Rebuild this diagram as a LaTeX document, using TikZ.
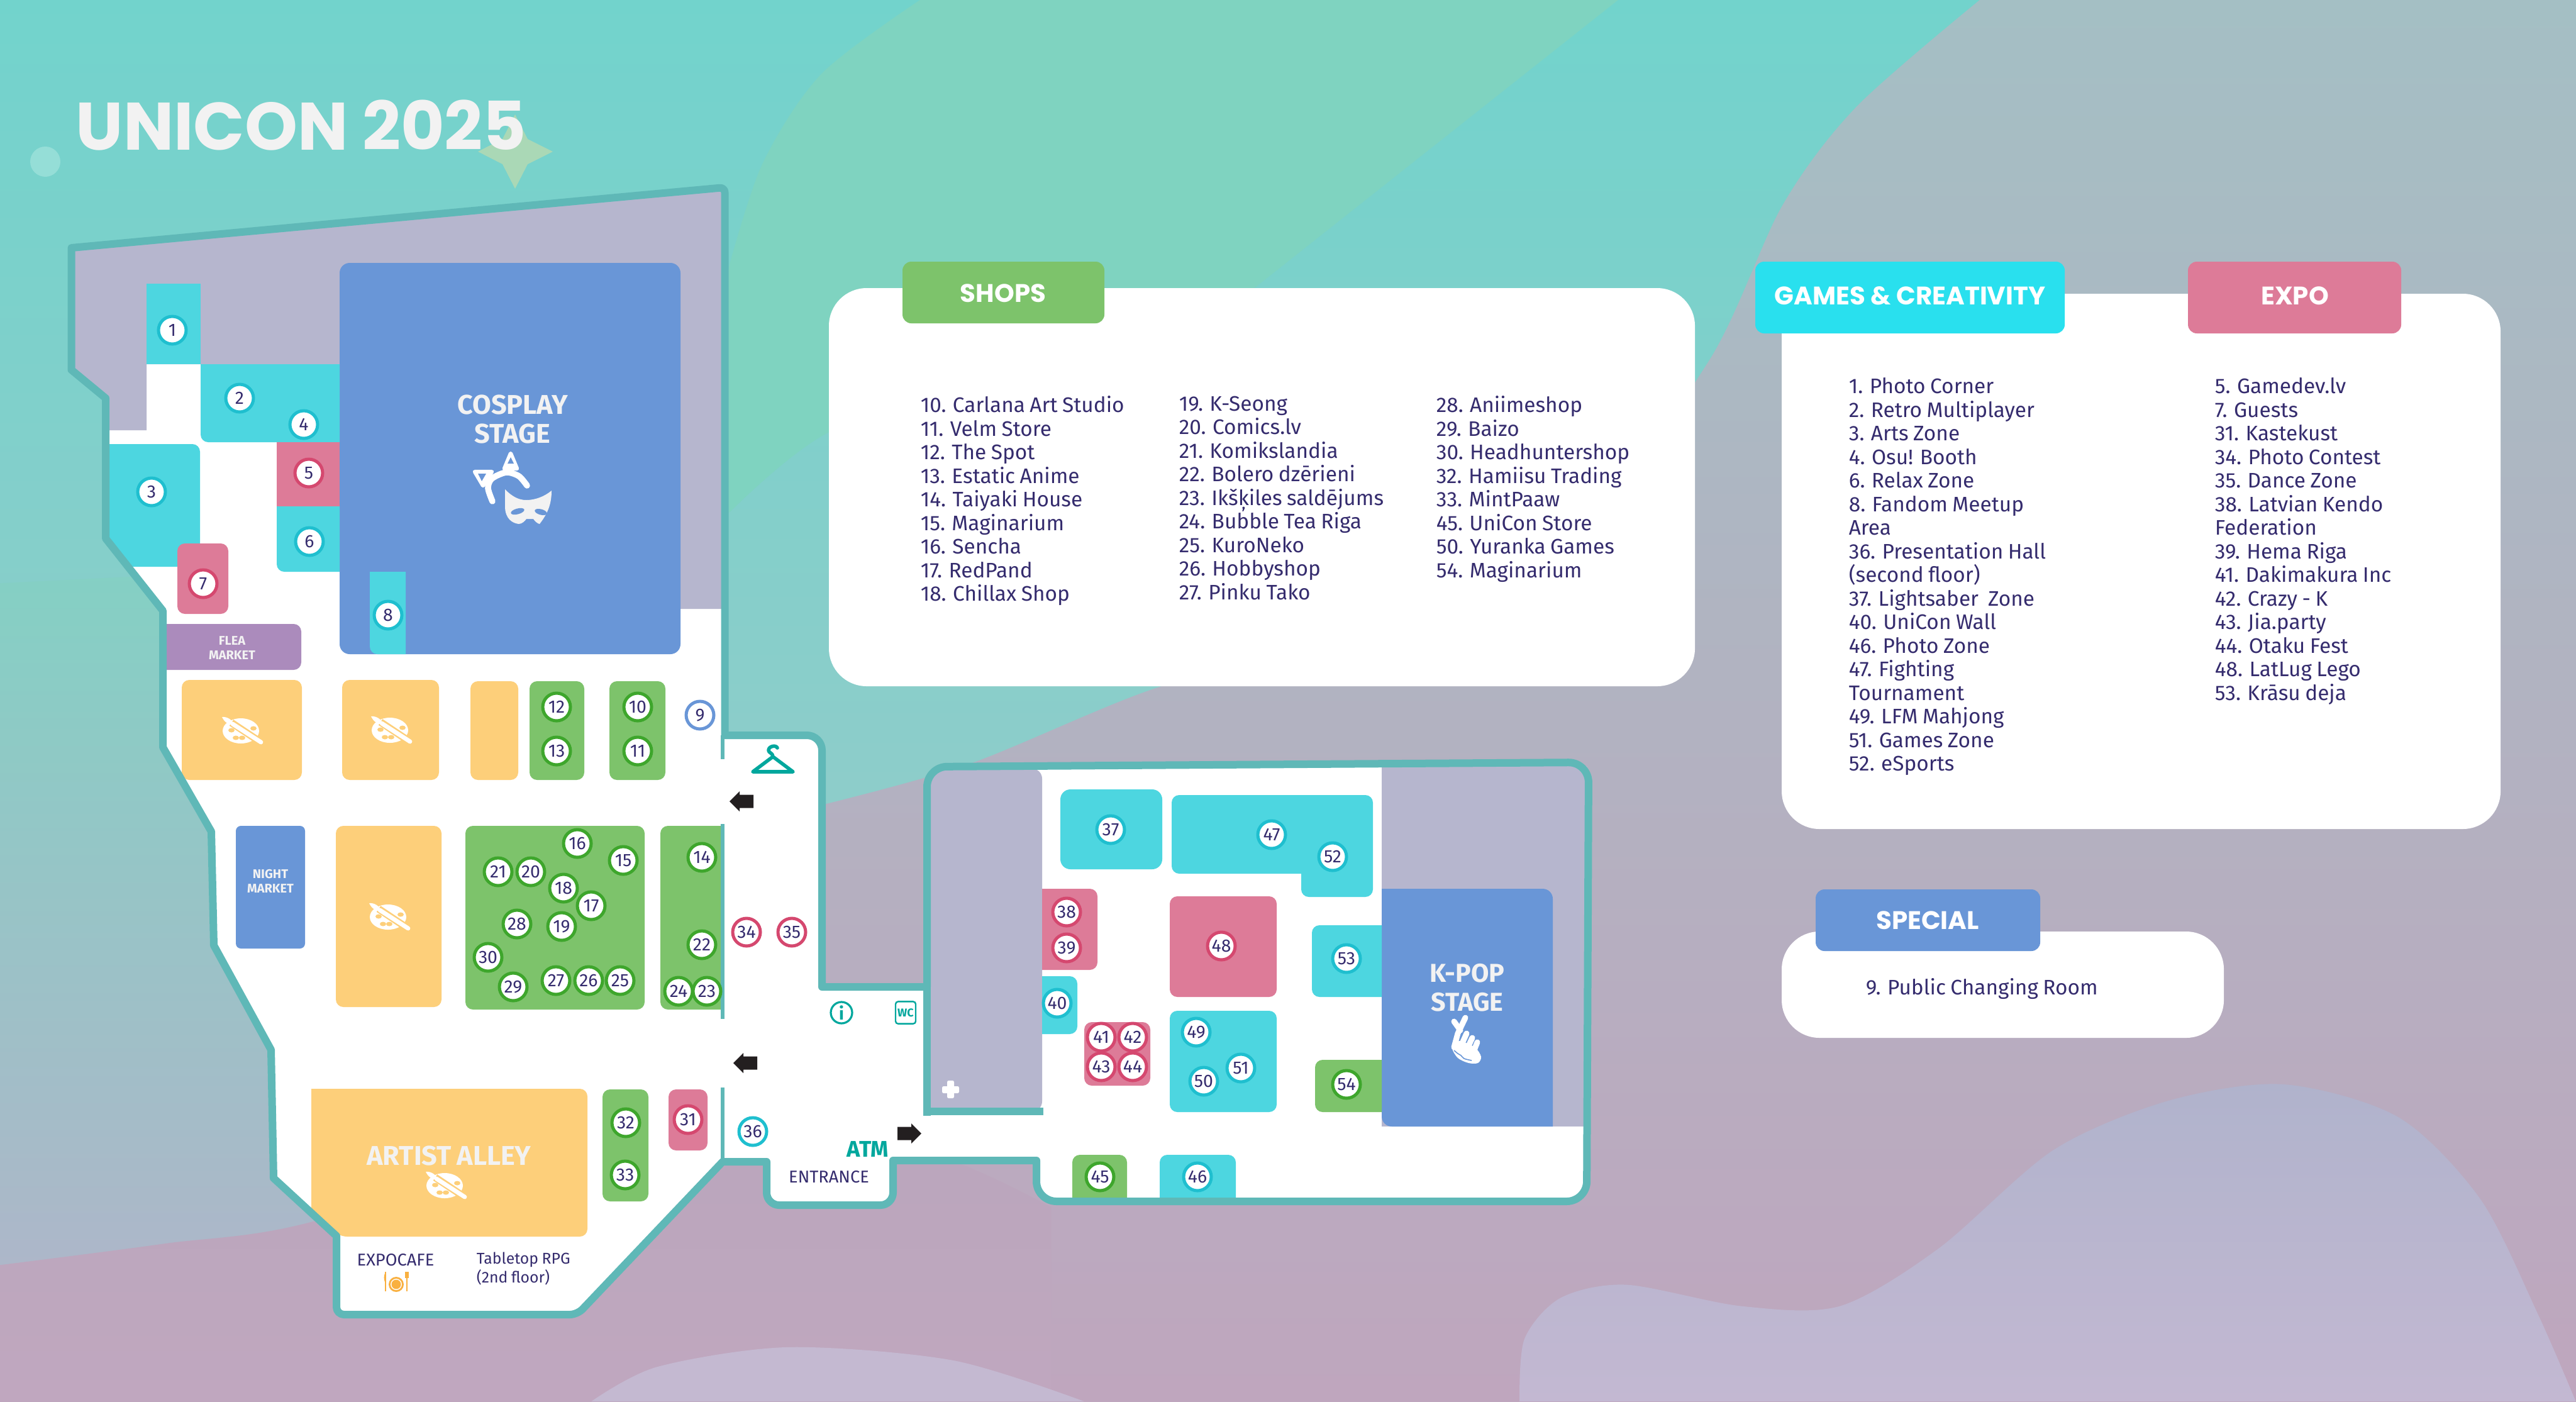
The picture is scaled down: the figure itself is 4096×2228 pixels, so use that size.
\documentclass[tikz,border=0pt]{standalone}
\usepackage{fontspec}
\setmainfont{Fira Sans}[WordSpace=0.85,Numbers=Proportional]
\newfontfamily\headfont{Poppins}
\usetikzlibrary{positioning}

\definecolor{ink}{HTML}{352C6E}
\definecolor{wallteal}{HTML}{5FB8B7}
\definecolor{deadgray}{HTML}{B6B6CE}
\definecolor{gamescyan}{HTML}{4DD6E0}
\definecolor{gamesring}{HTML}{1FBFCF}
\definecolor{gamestabcyan}{HTML}{29E0EE}
\definecolor{shopgreen}{HTML}{7DC36B}
\definecolor{shopring}{HTML}{3EA62C}
\definecolor{expopink}{HTML}{DD7B98}
\definecolor{exporing}{HTML}{D5486F}
\definecolor{stageblue}{HTML}{6996D7}
\definecolor{alleyyellow}{HTML}{FDCF7A}
\definecolor{fleapurple}{HTML}{AB8BBC}
\definecolor{signteal}{HTML}{00A79D}
\definecolor{paper}{HTML}{F2F2F2}
\definecolor{arrowblack}{HTML}{231F20}
\definecolor{plateorange}{HTML}{F9B040}
\definecolor{bgtop}{HTML}{A4BFC4}
\definecolor{bgmid}{HTML}{A7B8C3}
\definecolor{bgbottom}{HTML}{BFA6BE}
\definecolor{bgtealA}{HTML}{72D3CC}
\definecolor{bgtealB}{HTML}{75D2CB}
\definecolor{bgtealC}{HTML}{95CBC9}
\definecolor{bggreen}{HTML}{7FD3C0}
\definecolor{bgleftA}{HTML}{84D0C4}
\definecolor{bgleftB}{HTML}{AEB6C9}
\definecolor{bgpinkA}{HTML}{B9A6BC}
\definecolor{bgpinkB}{HTML}{C0A7BF}
\definecolor{bglilac}{HTML}{C4B9D1}
\definecolor{bgblobA}{HTML}{B0B3CC}
\definecolor{bgblobB}{HTML}{C3B8D2}
\definecolor{dotmint}{HTML}{95DED7}
\definecolor{starmint}{HTML}{AAD8B6}

\newcommand{\hallpath}{(113.5,394) [rounded corners=2pt] -- (1152.5,298) [sharp corners] -- (1152.5,1169)
  [rounded corners=6pt] -- (1307,1169) [sharp corners] -- (1307,1569) -- (1474,1569)
  [rounded corners=8pt] -- (1474,1219) -- (2526,1212) -- (2523,1910) -- (1648,1910) [sharp corners] -- (1648,1845) -- (1420,1845)
  [rounded corners=5pt] -- (1420,1916) -- (1219,1916) [sharp corners] -- (1219,1847) -- (1149,1847)
  [rounded corners=3pt] -- (918,2090) -- (535,2090) [sharp corners] -- (535,1965) -- (435,1873) -- (431,1669) -- (340,1503)
  -- (336,1322) -- (259,1188) -- (259,971) -- (168,856) -- (168,633) -- (113.5,588) -- cycle}

\tikzset{
  spotbase/.style={circle,draw,fill=white,line width=1.25pt,minimum size=11pt,inner sep=0pt,text=ink,font=\fontsize{7.1}{7.1}\selectfont},
  spotgames/.style={spotbase,draw=gamesring},
  spotshop/.style={spotbase,draw=shopring},
  spotexpo/.style={spotbase,draw=exporing},
  spotspecial/.style={spotbase,draw=stageblue},
  boxgames/.style={fill=gamescyan},
  boxshop/.style={fill=shopgreen},
  boxexpo/.style={fill=expopink},
  boxalley/.style={fill=alleyyellow,rounded corners=3pt},
  wallthin/.style={draw=wallteal,line width=1.3pt},
  tabbox/.style={rounded corners=3.5pt},
  tablabel/.style={text=white,font=\headfont\fontsize{10.1}{10.1}\selectfont\bfseries},
  panelbox/.style={fill=white,rounded corners=15pt},
  listtext/.style={text=ink,align=left,anchor=north west,inner sep=0pt,font=\fontsize{8.35}{9.375}\selectfont},
  stagelabel/.style={text=paper,align=center,font=\fontsize{10.8}{11.5}\selectfont\bfseries},
  tinylabel/.style={text=paper,align=center,font=\fontsize{5}{5.6}\selectfont\bfseries},
  floorlabel/.style={text=ink,font=\fontsize{6.8}{7.4}\selectfont},
  palette/.pic={
    \fill[white] (0,0) ellipse [x radius=29,y radius=20];
    \fill[alleyyellow] (-15,-1) ellipse [x radius=5,y radius=3.5];
    \fill[alleyyellow] (-8,11) ellipse [x radius=5,y radius=3.5];
    \fill[alleyyellow] (2,11) ellipse [x radius=5,y radius=3.5];
    \fill[alleyyellow] (20,-4) ellipse [x radius=5,y radius=3.5];
    \draw[alleyyellow,line width=2.9pt] (-15,-13) -- (33,19);
    \draw[white,line width=1.7pt,line cap=round] (-13,-11) -- (32,18);
    \fill[white] (-30,-22) .. controls (-22,-23) and (-14,-18) .. (-11,-10) .. controls (-20,-9) and (-26,-14) .. (-30,-22) -- cycle;
  },
  blockarrow/.pic={
    \fill[arrowblack] (-19,0) -- (-3,-16) -- (-3,-10.5) -- (19,-10.5) -- (19,10.5) -- (-3,10.5) -- (-3,16) -- cycle;
  }
}

\begin{document}
\begin{tikzpicture}[x=0.25pt,y=-0.25pt]
  \useasboundingbox (0,0) rectangle (4096,2228);

  % background
  \shade[top color=bgtop,middle color=bgmid,bottom color=bgbottom] (0,0) rectangle (4096,2228);
  \begin{scope}[x=0.653pt,y=-0.653pt]
    \shade[top color=bgtealA,middle color=bgtealB,bottom color=bgtealC] (0,0) -- plot[smooth] coordinates {(1205,0) (1130,65) (1085,125) (1040,220) (960,320) (820,385) (700,420) (590,465) (500,490)} -- (0,620) -- cycle;
    \fill[bggreen] plot[smooth] coordinates {(560,0) (500,45) (464,100) (443,165)} -- (400,300) -- (444,312) -- plot[smooth] coordinates {(444,312) (509,261) (620,240) (764,175)} -- (985,0) -- cycle;
    \shade[top color=bgleftA,bottom color=bgleftB] (0,355) -- (80,351) -- (300,345) -- (430,500) -- (430,780) -- (0,780) -- cycle;
    \shade[top color=bgpinkA,bottom color=bgpinkB] plot[smooth] coordinates {(0,770) (100,757) (196,742) (400,672) (560,700) (640,735)} -- (640,853) -- (0,853) -- cycle;
    \fill[bglilac] plot[smooth] coordinates {(360,853) (400,832) (480,820) (580,828) (660,853)} -- cycle;
    \shade[top color=bgblobA,bottom color=bgblobB] plot[smooth] coordinates {(925,853) (928,815) (950,790) (990,782) (1060,795) (1120,795) (1180,760) (1250,700) (1320,670) (1390,660) (1460,680) (1510,730) (1545,800) (1568,853)} -- cycle;
  \end{scope}

  % title
  \fill[dotmint] (72,257) ellipse [x radius=24,y radius=24];
  \fill[starmint] (819,182) -- (839,221) -- (879,241) -- (839,261) -- (819,300) -- (799,261) -- (760,241) -- (799,221) -- cycle;
  \node[anchor=base west,inner sep=0pt,text=paper,font=\headfont\fontsize{26.7}{26.7}\selectfont\bfseries] (title) at (120,238) {UNICON 2025};

  % hall floor
  \fill[white] \hallpath;
  \fill[deadgray] (116,397) -- (1150,303) -- (1150,968) -- (700,968) -- (700,579) -- (233,579) -- (233,684) -- (174,684) -- (174,633) -- (116,588) -- cycle;
  \fill[deadgray,rounded corners=4pt] (1476,1222) -- (1657,1222) -- (1657,1767) -- (1476,1767) -- cycle;
  \fill[deadgray] (2197,1218) -- (2524,1218) -- (2524,1791) -- (2197,1791) -- cycle;

  % stages
  \fill[stageblue,rounded corners=4pt] (540,418) rectangle (1082,1040);
  \fill[stageblue] (2197,1413) [rounded corners=4pt] -- (2469,1413) [sharp corners] -- (2469,1791) [rounded corners=4pt] -- (2197,1791) [sharp corners] -- cycle;
  \fill[stageblue,rounded corners=2pt] (375,1313) rectangle (485,1508);
  \fill[fleapurple] (265,992) [rounded corners=3pt] -- (479,992) -- (479,1065) [sharp corners] -- (265,1065) -- cycle;

  % left hall booths
  \fill[boxgames] (233,451) rectangle (319,579);
  \fill[boxgames] (319,579) -- (540,579) -- (540,703) [rounded corners=3pt] -- (319,703) [sharp corners] -- cycle;
  \fill[boxgames] (174,706) [rounded corners=3pt] -- (318,706) [sharp corners] -- (318,901) -- (204,901) -- (174,862) -- cycle;
  \fill[boxexpo] (440,703) rectangle (540,805);
  \fill[boxgames] (440,805) -- (540,805) -- (540,909) [rounded corners=3pt] -- (440,909) [sharp corners] -- cycle;
  \fill[boxexpo,rounded corners=3pt] (282,864) rectangle (363,976);
  \fill[boxgames] (588,909) -- (645,909) -- (645,1040) [rounded corners=3pt] -- (588,1040) [sharp corners] -- cycle;
  \fill[boxalley] (289,1081) rectangle (480,1240);
  \fill[boxalley] (544,1081) rectangle (698,1240);
  \fill[boxalley] (748,1083) rectangle (824,1240);
  \fill[boxshop,rounded corners=3pt] (842,1083) rectangle (929,1240);
  \fill[boxshop,rounded corners=3pt] (969,1083) rectangle (1058,1240);
  \fill[boxalley] (534,1313) rectangle (702,1601);
  \fill[boxshop,rounded corners=3pt] (740,1313) rectangle (1025,1605);
  \fill[boxshop] (1149,1313) -- (1149,1605) [rounded corners=3pt] -- (1050,1605) -- (1050,1313) [sharp corners] -- cycle;
  \fill[boxalley] (495,1731) -- (934,1731) -- (934,1966) -- (540,1966) [sharp corners] -- (495,1928) -- cycle;
  \fill[boxshop,rounded corners=3pt] (958,1732) rectangle (1031,1910);
  \fill[boxexpo,rounded corners=3pt] (1063,1732) rectangle (1125,1829);

  % right hall booths
  \fill[boxgames,rounded corners=4pt] (1686,1255) rectangle (1848,1382);
  \fill[boxgames,rounded corners=3pt] (1863,1264) -- (2183,1264) -- (2183,1426) -- (2069,1426) [sharp corners] -- (2069,1389) [rounded corners=3pt] -- (1863,1389) -- cycle;
  \fill[boxexpo,rounded corners=3pt] (1860,1425) rectangle (2030,1585);
  \fill[boxexpo] (1657,1413) [rounded corners=3pt] -- (1745,1413) -- (1745,1542) [sharp corners] -- (1657,1542) -- cycle;
  \fill[boxgames] (1657,1552) [rounded corners=3pt] -- (1713,1552) -- (1713,1644) [sharp corners] -- (1657,1644) -- cycle;
  \fill[boxexpo,rounded corners=3pt] (1724,1625) rectangle (1829,1726);
  \fill[boxgames,rounded corners=3pt] (1860,1607) rectangle (2030,1768);
  \fill[boxgames] (2197,1471) [rounded corners=3pt] -- (2086,1471) -- (2086,1585) [sharp corners] -- (2197,1585) -- cycle;
  \fill[boxshop] (2197,1685) [rounded corners=3pt] -- (2091,1685) -- (2091,1768) [sharp corners] -- (2197,1768) -- cycle;
  \fill[boxshop] (1705,1904) [rounded corners=3pt] -- (1705,1836) -- (1792,1836) [sharp corners] -- (1792,1904) -- cycle;
  \fill[boxgames] (1844,1904) [rounded corners=3pt] -- (1844,1836) -- (1965,1836) [sharp corners] -- (1965,1904) -- cycle;

  % walls
  \draw[wallteal,line width=3pt,line join=round] \hallpath;
  \draw[wallteal,line width=3pt] (1474,1569) -- (1474,1774);
  \draw[wallteal,line width=3pt] (1474,1767) -- (1659,1767);
  \draw[wallthin] (1149,1169) -- (1149,1207);
  \draw[wallthin] (1149,1310) -- (1149,1620);
  \draw[wallthin] (1149,1729) -- (1149,1847);

  % stage and area labels
  \node[stagelabel] (cosplay) at (815,667) {COSPLAY\\STAGE};
  \node[stagelabel,font=\fontsize{10.3}{11.5}\selectfont\bfseries] (kpop) at (2333,1570) {K-POP\\STAGE};
  \node[tinylabel] (flea) at (369,1030) {FLEA\\MARKET};
  \node[tinylabel] (night) at (430,1401) {NIGHT\\MARKET};
  \node[stagelabel] (alley) at (714,1837) {ARTIST ALLEY};
  \node[floorlabel] (entrance) at (1318,1871) {ENTRANCE};
  \node[floorlabel] (cafe) at (629,2003) {EXPOCAFE};
  \node[floorlabel,font=\fontsize{6.2}{7.4}\selectfont,align=left,anchor=north west,inner sep=0pt] (tabletop) at (757,1990) {Tabletop RPG\\(2nd floor)};
  \node[text=signteal,font=\fontsize{9}{9}\selectfont\bfseries] (atm) at (1380,1827) {ATM};
  \node[circle,draw=signteal,line width=0.8pt,minimum size=8.5pt,inner sep=0pt,text=signteal,font=\fontsize{7}{7}\selectfont\bfseries] (info) at (1338,1610) {i};
  \node[draw=signteal,line width=0.6pt,rounded corners=1pt,minimum width=8pt,minimum height=8.8pt,inner sep=0pt,text=signteal,font=\fontsize{4.5}{4.5}\selectfont\bfseries] (wc) at (1440,1610) {WC};

  % icons
  \pic at (383,1162) {palette};
  \pic at (620,1161) {palette};
  \pic at (617,1458) {palette};
  \pic at (707,1885) {palette};
  \pic at (1179,1274) {blockarrow};
  \pic at (1185,1690) {blockarrow};
  \pic[xscale=-1] at (1446,1802) {blockarrow};

  % cat ears and mask
  \draw[white,line width=2.4pt,line cap=round] plot[smooth] coordinates {(783,797) (776,776) (782,761) (805,751) (825,757) (838,772)};
  \fill[white,draw=white,line width=1.6pt,line join=round] (812,721) -- (802,745) -- (822,745) -- cycle;
  \fill[stageblue] (812,727) -- (807,737) -- (817,737) -- cycle;
  \fill[white,draw=white,line width=1.6pt,line join=round] (755,750) -- (782,750) -- (768,772) -- cycle;
  \fill[stageblue] (760,753) -- (773,753) -- (766,765) -- cycle;
  \fill[paper] (803,778) .. controls (815,790) and (825,795) .. (837,795) .. controls (850,795) and (865,790) .. (877,780) .. controls (877,800) and (872,815) .. (858,833) .. controls (855,833) and (850,828) .. (848,825) -- (837,825) .. controls (835,828) and (830,833) .. (825,833) .. controls (815,832) and (803,825) .. (803,805) -- cycle;
  \fill[stageblue,rotate around={15:(823,813)}] (823,813) ellipse [x radius=11,y radius=4.5];
  \fill[stageblue,rotate around={-15:(860,814)}] (860,814) ellipse [x radius=10,y radius=4.5];

  % hanger
  \draw[signteal,line width=1.4pt,line join=round,line cap=round] (1236,1189) .. controls (1234,1184) and (1222,1186) .. (1222,1193) .. controls (1222,1197) and (1229,1197) .. (1229,1203) -- (1261,1227) -- (1197,1227) -- (1229,1203);

  % plate
  \fill[plateorange] (630,2042) circle [radius=12];
  \fill[white] (630,2042) circle [radius=9];
  \fill[plateorange] (630,2042) circle [radius=7.5];
  \draw[plateorange,line width=0.6pt] (613,2022) -- (613,2053);
  \fill[plateorange] (613,2022) .. controls (610,2028) and (610,2034) .. (612,2038) -- (614,2038) -- cycle;
  \draw[plateorange,line width=0.6pt] (647,2025) -- (647,2053);
  \fill[plateorange] (644,2022) rectangle (650,2032);

  % finger heart
  \fill[white,line join=round] plot[smooth cycle] coordinates {(2309,1666) (2320,1655) (2345,1665) (2355,1680) (2350,1690) (2335,1690) (2318,1682)};
  \draw[white,line width=2.25pt,line cap=round] (2330,1618) -- (2318,1643) -- (2312,1665);
  \draw[white,line width=2.25pt,line cap=round] (2312,1624) -- (2322,1638);
  \draw[white,line width=2.25pt,line cap=round] (2332,1643) -- (2323,1663);
  \draw[white,line width=2.25pt,line cap=round] (2341,1650) -- (2333,1667);
  \draw[white,line width=2.25pt,line cap=round] (2349,1657) -- (2343,1672);
  \draw[stageblue,line width=0.4pt] plot[smooth] coordinates {(2312,1670) (2318,1675) (2323,1678) (2328,1683) (2340,1686)};

  % hospital cross
  \fill[white,rounded corners=0.6pt] (1506,1718) rectangle (1517,1746);
  \fill[white,rounded corners=0.6pt] (1498,1727) rectangle (1525,1738);

  % markers
  \foreach \n/\x/\y in {1/274/525,2/381/633,3/241/782,4/483/675,6/492/861,8/617/978,36/1197/1799,37/1766/1319,40/1681/1595,46/1904/1871,47/2022/1327,49/1902/1641,50/1914/1719,51/1973/1698,52/2119/1362,53/2141/1524}
    {\node[spotgames] (spot\n) at (\x,\y) {\n};}
  \foreach \n/\x/\y in {10/1014/1124,11/1014/1194,12/885/1124,13/885/1194,14/1116/1363,15/991/1368,16/918/1341,17/940/1440,18/896/1412,19/893/1473,20/844/1386,21/792/1386,22/1116/1502,23/1124/1576,24/1079/1576,25/986/1559,26/936/1559,27/884/1559,28/822/1469,29/816/1569,30/776/1522,32/995/1785,33/994/1868,45/1749/1871,54/2141/1724}
    {\node[spotshop] (spot\n) at (\x,\y) {\n};}
  \foreach \n/\x/\y in {5/491/752,7/323/928,31/1094/1780,34/1187/1482,35/1259/1482,38/1696/1450,39/1696/1507,41/1751/1649,42/1801/1649,43/1751/1696,44/1801/1696,48/1942/1504}
    {\node[spotexpo] (spot\n) at (\x,\y) {\n};}
  \node[spotspecial] (spot9) at (1113,1137) {9};

  % legend panels
  \fill[panelbox] (1318,458) rectangle (2695,1091);
  \fill[panelbox] (2833,467) rectangle (3976,1318);
  \fill[panelbox] (2833,1481) rectangle (3536,1650);
  \fill[tabbox,fill=shopgreen] (1435,416) rectangle (1756,514);
  \fill[tabbox,fill=gamestabcyan] (2791,416) rectangle (3283,530);
  \fill[tabbox,fill=expopink] (3479,416) rectangle (3818,530);
  \fill[tabbox,fill=stageblue] (2887,1414) rectangle (3244,1512);
  \node[tablabel] (shopstab) at (1595,466) {SHOPS};
  \node[tablabel] (gamestab) at (3037,470) {GAMES \& CREATIVITY};
  \node[tablabel] (expotab) at (3649,470) {EXPO};
  \node[tablabel] (specialtab) at (3065,1463) {SPECIAL};

  \node[listtext] (shopsA) at (1463,629) {10. Carlana Art Studio\\11. Velm Store\\12. The Spot\\13. Estatic Anime\\14. Taiyaki House\\15. Maginarium\\16. Sencha\\17. RedPand\\18. Chillax Shop};
  \node[listtext] (shopsB) at (1874,629) {19. K-Seong\\20. Comics.lv\\21. Komikslandia\\22. Bolero dzērieni\\23. Ikšķiles saldējums\\24. Bubble Tea Riga\\25. KuroNeko\\26. Hobbyshop\\27. Pinku Tako};
  \node[listtext] (shopsC) at (2283,629) {28. Aniimeshop\\29. Baizo\\30. Headhuntershop\\32. Hamiisu Trading\\33. MintPaaw\\45. UniCon Store\\50. Yuranka Games\\54. Maginarium};
  \node[listtext] (gameslist) at (2939,600) {1. Photo Corner\\2. Retro Multiplayer\\3. Arts Zone\\4. Osu! Booth\\6. Relax Zone\\8. Fandom Meetup\\Area\\36. Presentation Hall\\(second floor)\\37. Lightsaber\ \ Zone\\40. UniCon Wall\\46. Photo Zone\\47. Fighting\\Tournament\\49. LFM Mahjong\\51. Games Zone\\52. eSports};
  \node[listtext] (expolist) at (3521,600) {5. Gamedev.lv\\7. Guests\\31. Kastekust\\34. Photo Contest\\35. Dance Zone\\38. Latvian Kendo\\Federation\\39. Hema Riga\\41. Dakimakura Inc\\42. Crazy - K\\43. Jia.party\\44. Otaku Fest\\48. LatLug Lego\\53. Krāsu deja};
  \node[listtext] (speciallist) at (2966,1555) {9. Public Changing Room};
\end{tikzpicture}
\end{document}
